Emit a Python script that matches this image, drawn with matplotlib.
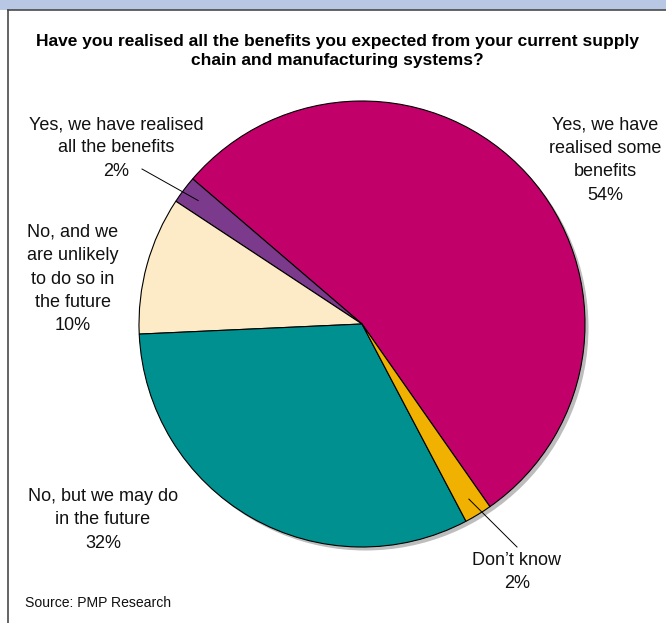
import numpy as np
import matplotlib
matplotlib.use("Agg")
import matplotlib.pyplot as plt
from matplotlib.patches import Circle, Rectangle
from matplotlib import font_manager

# Survey answers, in drawing order (counter-clockwise from the start angle)
categories = [
    "Yes, we have\nrealised some\nbenefits",
    "Yes, we have realised\nall the benefits",
    "No, and we\nare unlikely\nto do so in\nthe future",
    "No, but we may do\nin the future",
    "Don\u2019t know",
]
values = [54, 2, 10, 32, 2]
colors = ["#C2006A", "#7B3A8C", "#FDEBC8", "#009090", "#F0B100"]

title = ("Have you realised all the benefits you expected from your current supply\n"
         "chain and manufacturing systems?")
source = "Source: PMP Research"


def pick_font(cands):
    names = {f.name for f in font_manager.fontManager.ttflist}
    for c in cands:
        if c in names:
            return c
    return "DejaVu Sans"


FONT = pick_font(["Liberation Sans Narrow", "Liberation Sans", "Roboto"])

W, H = 666, 623
fig = plt.figure(figsize=(W / 100, H / 100), dpi=100)
ax = fig.add_axes([0, 0, 1, 1])


def Y(y):
    # convert a top-down pixel row to axis coordinates
    return H - y


# page furniture: blue band, rule and left edge
ax.add_patch(Rectangle((0, Y(10)), W, 10, facecolor="#B8C8E4", edgecolor="none", zorder=0))
ax.plot([8, W], [Y(10), Y(10)], color="#4A4A4A", lw=1.2, zorder=1)
ax.plot([8, 8], [Y(10), 0], color="#4A4A4A", lw=1.2, zorder=1)

cx, cy, R = 362, 324, 223
start = -55.0

# drop shadow
ax.add_patch(Circle((cx + 3.5, Y(cy) - 3.5), R, facecolor="#BDBDBD", edgecolor="none", zorder=2))

wedges, _ = ax.pie(values, colors=colors, startangle=start, counterclock=True,
                   center=(cx, Y(cy)), radius=R,
                   wedgeprops=dict(edgecolor="black", linewidth=0.8))
for w in wedges:
    w.set_zorder(3)

ax.set_xlim(0, W)
ax.set_ylim(0, H)
ax.set_aspect("equal")
ax.axis("off")

fs = 13
ax.text(337, Y(51), title, ha="center", va="center", fontsize=12.55,
        fontweight="bold", family=FONT, linespacing=1.4)

label_pos = [(605, 160), (116, 148), (73, 279), (103, 520), (517, 572)]
for cat, val, (lx, ly) in zip(categories, values, label_pos):
    ax.text(lx, Y(ly), f"{cat}\n{val}%", ha="center", va="center",
            fontsize=fs, family=FONT, linespacing=1.5, color="#111111")

# leader lines for the two thin slices
def inside(w, frac=0.92):
    a = np.deg2rad((w.theta1 + w.theta2) / 2)
    return cx + frac * R * np.cos(a), Y(cy) + frac * R * np.sin(a)

px, py = inside(wedges[1])
ax.plot([142, px], [Y(169), py], color="black", lw=0.7, zorder=4)
px, py = inside(wedges[4])
ax.plot([517, px], [Y(547), py], color="black", lw=0.7, zorder=4)

ax.text(25, Y(603), source, ha="left", va="center", fontsize=10.1, family=FONT, color="#111111")

fig.savefig("out.png", dpi=100)
